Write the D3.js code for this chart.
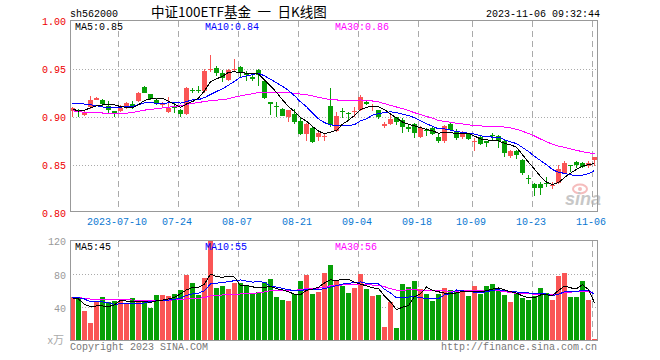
<!DOCTYPE html>
<html><head><meta charset="utf-8">
<script src="https://cdn.jsdelivr.net/npm/d3@7"></script>
<style>html,body{margin:0;padding:0;background:#fff;}svg{display:block;}</style>
</head><body>
<svg id="chart" width="660" height="360"></svg>
<script>
// ---------- data ----------
const code = "sh562000";
const title = "中证100ETF基金 一 日K线图";
const stamp = "2023-11-06 09:32:44";
const dates = [
"2023-06-28","2023-06-29","2023-06-30",
"2023-07-03","2023-07-04","2023-07-05","2023-07-06","2023-07-07",
"2023-07-10","2023-07-11","2023-07-12","2023-07-13","2023-07-14",
"2023-07-17","2023-07-18","2023-07-19","2023-07-20","2023-07-21",
"2023-07-24","2023-07-25","2023-07-26","2023-07-27","2023-07-28","2023-07-31",
"2023-08-01","2023-08-02","2023-08-03","2023-08-04",
"2023-08-07","2023-08-08","2023-08-09","2023-08-10","2023-08-11",
"2023-08-14","2023-08-15","2023-08-16","2023-08-17","2023-08-18",
"2023-08-21","2023-08-22","2023-08-23","2023-08-24","2023-08-25",
"2023-08-28","2023-08-29","2023-08-30","2023-08-31","2023-09-01",
"2023-09-04","2023-09-05","2023-09-06","2023-09-07","2023-09-08",
"2023-09-11","2023-09-12","2023-09-13","2023-09-14","2023-09-15",
"2023-09-18","2023-09-19","2023-09-20","2023-09-21","2023-09-22",
"2023-09-25","2023-09-26","2023-09-27","2023-09-28",
"2023-10-09","2023-10-10","2023-10-11","2023-10-12","2023-10-13",
"2023-10-16","2023-10-17","2023-10-18","2023-10-19","2023-10-20",
"2023-10-23","2023-10-24","2023-10-25","2023-10-26","2023-10-27",
"2023-10-30","2023-10-31",
"2023-11-01","2023-11-02","2023-11-03","2023-11-06"];
const opens = [
.906,.907,.902,.910,.918,.917,.911,.906,.906,.909,
.913,.916,.931,.923,.917,.912,.905,.910,.907,.903,
.928,.928,.927,.949,.951,.945,.938,.949,.952,.945,
.941,.948,.937,.915,.911,.908,.900,.903,.895,.882,
.888,.879,.879,.911,.885,.906,.904,.905,.907,.915,
.910,.907,.891,.892,.899,.896,.889,.892,.879,.886,
.888,.879,.874,.892,.884,.879,.882,.874,.879,.874,
.881,.880,.875,.859,.864,.855,.836,.830,.830,.831,
.828,.831,.841,.850,.853,.852,.848,.855];
const highs = [
.910,.908,.906,.921,.920,.918,.916,.906,.912,.915,
.916,.926,.932,.923,.919,.915,.920,.915,.908,.931,
.930,.932,.949,.964,.953,.948,.950,.960,.953,.947,
.944,.949,.939,.915,.915,.909,.907,.908,.898,.893,
.889,.885,.883,.930,.905,.909,.905,.910,.922,.917,
.913,.907,.894,.902,.900,.898,.891,.893,.890,.888,
.889,.882,.891,.893,.887,.885,.883,.878,.881,.875,
.883,.881,.876,.865,.865,.856,.839,.831,.832,.837,
.832,.849,.854,.850,.854,.853,.854,.858];
const lows = [
.900,.900,.901,.908,.917,.910,.904,.900,.905,.908,
.908,.915,.924,.917,.912,.910,.904,.904,.900,.902,
.925,.924,.925,.946,.942,.936,.937,.947,.941,.937,
.937,.932,.918,.902,.900,.901,.894,.892,.881,.875,
.872,.875,.875,.889,.884,.898,.896,.900,.906,.912,
.906,.897,.888,.891,.891,.883,.884,.878,.878,.880,
.881,.872,.872,.885,.876,.877,.876,.864,.870,.868,
.874,.867,.858,.857,.856,.839,.830,.817,.818,.827,
.824,.830,.840,.842,.846,.846,.846,.848];
const closes = [
.909,.906,.905,.917,.919,.913,.907,.904,.909,.914,
.911,.924,.925,.918,.913,.914,.909,.909,.903,.930,
.927,.927,.947,.950,.945,.940,.948,.950,.945,.943,
.940,.943,.919,.914,.910,.901,.907,.894,.882,.892,
.873,.883,.880,.891,.901,.905,.903,.906,.920,.914,
.911,.899,.892,.897,.894,.889,.888,.883,.888,.885,
.882,.874,.890,.886,.878,.882,.877,.875,.871,.873,
.880,.874,.862,.864,.860,.841,.835,.826,.826,.830,
.829,.845,.852,.849,.849,.847,.852,.858];
// volume, 万
const volumes = [
52.6,50.6,35.5,21.5,47.4,52.6,45.8,47.4,47.4,43.4,
51.4,45.8,47.4,39.4,54.6,54.6,53.8,56.2,60.6,78.5,
68.9,54.6,75.3,121,63.3,65.3,61.8,68.9,68.5,65.7,
56.6,58.6,69.7,73.7,52.6,48.6,47.4,55.4,71.3,78.5,
55.8,58.6,81.3,90.4,72.5,65.3,57.4,63.3,79.7,61.8,
53.4,54.6,16.7,45.8,14.7,67.7,64.1,71.3,62,56,
47,56,63,61,58,58,53.5,66,56,65,
68,60,54.5,45.8,56,51.5,48.5,54,63,56.6,
48.6,78,80.5,52,52,72,49,1.5];
// the 29 sessions before 2023-06-28 (estimated from the starting MA levels)
const priorCloses = [.930,.928,.926,.925,.921,.916,.912,.911,.898,.893,.888,.887,.889,.900,
.888,.884,.883,.886,.887,.891,.905,.912,.924,.930,.925,.918,.900,.905,.908];
const priorVolumes = [55,58,52,50,54,56,49,53,51,55,48,52,47,50,53,49,51,46,50,53,
54,50,56,48,52,57.6,67.5,35.5,42.8];
const priceTicks = [1.00, 0.95, 0.90, 0.85, 0.80];
const priceGrid = [0.95, 0.90, 0.85];
const volumeTicks = [120, 80, 40];
const volumeGrid = [80, 40];
const dateTicks = ["2023-07-10","2023-07-24","2023-08-07","2023-08-21","2023-09-04","2023-09-18","2023-10-09","2023-10-23","2023-11-06"];
const dateTickLabels = ["2023-07-10","07-24","08-07","08-21","09-04","09-18","10-09","10-23","11-06"];

// ---------- helpers ----------
function movingAvg(prior, vals, n){
  const all = prior.concat(vals);
  return vals.map((_, i) => {
    const end = prior.length + i;
    let s = 0;
    for (let k = end - n + 1; k <= end; k++) s += all[k];
    return s / n;
  });
}
const ma5 = movingAvg(priorCloses, closes, 5);
const ma10 = movingAvg(priorCloses, closes, 10);
const ma30 = movingAvg(priorCloses, closes, 30);
const vma5 = movingAvg(priorVolumes, volumes, 5);
const vma10 = movingAvg(priorVolumes, volumes, 10);
const vma30 = movingAvg(priorVolumes, volumes, 30);

const UP = "#fa5555", DOWN = "#07a007";
const MONO = "'Liberation Mono', 'DejaVu Sans Mono', monospace";
const L = 70, R = 597, T = 20, B = 211, VT = 240, VB = 340;

const svg = d3.select("#chart");
svg.append("rect").attr("width",660).attr("height",360).attr("fill","#fff");

const x = d3.scaleBand().domain(dates).range([L, R]).paddingInner(1/6).paddingOuter(0).align(0);
const bw = x.bandwidth();
const yP = d3.scaleLinear().domain([0.80, 1.00]).range([212.5, 20.5]);
const yV = d3.scaleLinear().domain([0, 120]).range([340.5, 240.5]);

const defs = svg.append("defs");
defs.append("clipPath").attr("id","cpMain").append("rect").attr("x",L+1).attr("y",T+1).attr("width",R-L-1).attr("height",B-T-1);
defs.append("clipPath").attr("id","cpVol").append("rect").attr("x",L+1).attr("y",VT+1).attr("width",R-L-1).attr("height",VB-VT);

// ---------- grids ----------
const grid = svg.append("g");
grid.selectAll(".hp").data(priceGrid).join("line")
  .attr("x1",L).attr("x2",R).attr("y1",d=>Math.round(yP(d))+0.5).attr("y2",d=>Math.round(yP(d))+0.5)
  .attr("stroke","#aaa").attr("stroke-dasharray","1,2");
grid.selectAll(".hv").data(volumeGrid).join("line")
  .attr("x1",L).attr("x2",R).attr("y1",d=>Math.round(yV(d))+0.5).attr("y2",d=>Math.round(yV(d))+0.5)
  .attr("stroke","#aaa").attr("stroke-dasharray","1,2");
[[T,B],[VT,VB]].forEach(([a,b]) => {
  grid.append("g").selectAll("line").data(dateTicks).join("line")
    .attr("x1",d=>x(d)+0.5).attr("x2",d=>x(d)+0.5).attr("y1",a+1).attr("y2",b)
    .attr("stroke","#aaa").attr("stroke-dasharray","6,4");
});

// ---------- watermark ----------
const wm = svg.append("g").attr("opacity",0.75);
wm.append("ellipse").attr("cx",580).attr("cy",189).attr("rx",7).attr("ry",4.5)
  .attr("fill","none").attr("stroke","#f2a6a6").attr("stroke-width",2);
wm.append("circle").attr("cx",580).attr("cy",189).attr("r",2).attr("fill","#f2a6a6");
wm.append("text").attr("x",565).attr("y",205).attr("font-family","'Liberation Sans', Arial, sans-serif")
  .attr("font-size",18).attr("font-weight","bold").attr("font-style","italic").attr("fill","#b5b5b5").text("sina");

// ---------- candles ----------
const idx = d3.range(dates.length);
const isUp = i => closes[i] >= opens[i];
const cg = svg.append("g").attr("clip-path","url(#cpMain)").attr("shape-rendering","crispEdges");
cg.selectAll(".wick").data(idx).join("line")
  .attr("x1",i=>x(dates[i])+2.5).attr("x2",i=>x(dates[i])+2.5)
  .attr("y1",i=>yP(highs[i])).attr("y2",i=>yP(lows[i]))
  .attr("stroke",i=>isUp(i)?UP:DOWN);
cg.selectAll(".body").data(idx).join("rect")
  .attr("x",i=>x(dates[i])).attr("width",bw)
  .attr("y",i=>yP(Math.max(opens[i],closes[i])))
  .attr("height",i=>Math.max(1.5, Math.abs(yP(opens[i])-yP(closes[i]))))
  .attr("fill",i=>isUp(i)?UP:DOWN);

// ---------- volume bars ----------
const vg = svg.append("g").attr("clip-path","url(#cpVol)").attr("shape-rendering","crispEdges");
vg.selectAll("rect").data(idx).join("rect")
  .attr("x",i=>x(dates[i])).attr("width",bw)
  .attr("y",i=>yV(volumes[i])).attr("height",i=>yV(0)-yV(volumes[i]))
  .attr("fill",i=>isUp(i)?UP:DOWN);

// ---------- MA lines ----------
function drawLines(g, series, yScale){
  series.forEach(([vals, color]) => {
    g.append("path").datum(vals)
      .attr("d", d3.line().x((d,i)=>x(dates[i])+2.5).y(d=>yScale(d)))
      .attr("fill","none").attr("stroke",color).attr("stroke-width",1)
      .attr("shape-rendering","crispEdges");
  });
}
drawLines(svg.append("g").attr("clip-path","url(#cpMain)"), [[ma30,"#ff00ff"],[ma10,"#0000ff"],[ma5,"#000"]], yP);
drawLines(svg.append("g").attr("clip-path","url(#cpVol)"), [[vma30,"#ff00ff"],[vma10,"#0000ff"],[vma5,"#000"]], yV);

// ---------- frames ----------
svg.append("rect").attr("x",L+0.5).attr("y",T+0.5).attr("width",R-L).attr("height",B-T)
  .attr("fill","none").attr("stroke","#999");
svg.append("rect").attr("x",L+0.5).attr("y",VT+0.5).attr("width",R-L).attr("height",VB-VT)
  .attr("fill","none").attr("stroke","#999");

// ---------- axes ----------
function styleAxis(g, color){
  g.select(".domain").remove();
  g.selectAll(".tick line").remove();
  g.attr("font-family", MONO).attr("font-size", 10);
  g.selectAll("text").attr("fill", color);
}
const ay = svg.append("g").attr("transform",`translate(${L},0)`)
  .call(d3.axisLeft(yP).tickValues(priceTicks).tickFormat(d3.format(".2f")).tickSize(0).tickPadding(4));
styleAxis(ay, "#ee0000");
ay.selectAll("text").attr("dy","0.42em");

const av = svg.append("g").attr("transform",`translate(${L},0)`)
  .call(d3.axisLeft(yV).tickValues(volumeTicks).tickSize(0).tickPadding(4));
styleAxis(av, "#999");
av.selectAll("text").attr("dy","0.42em");

const ax = svg.append("g").attr("transform",`translate(${-3.5},${B})`)
  .call(d3.axisBottom(x).tickValues(dateTicks).tickFormat((d,i)=>dateTickLabels[i]).tickSize(0).tickPadding(7));
styleAxis(ax, "#0b78d1");

// ---------- texts ----------
const txt = (xx, yy, s, color, anchor) => svg.append("text").attr("x",xx).attr("y",yy)
  .attr("font-family",MONO).attr("font-size",10).attr("fill",color)
  .attr("text-anchor",anchor||"start").text(s);
txt(70, 17, code, "#000");
txt(600, 17, stamp, "#000", "end");
svg.append("text").attr("x",151).attr("y",17)
  .attr("font-family","'Noto Sans CJK SC', sans-serif").attr("font-size",13.5).attr("fill","#000")
  .attr("word-spacing",3.5).text(title);

const last = dates.length - 1;
const f2 = d3.format(".2f");
txt(75, 30, "MA5:" + f2(ma5[last]), "#000");
txt(205, 30, "MA10:" + f2(ma10[last]), "#0000ff");
txt(335, 30, "MA30:" + f2(ma30[last]), "#ff00ff");
txt(75, 250, "MA5:" + Math.round(vma5[last]), "#000");
txt(205, 250, "MA10:" + Math.round(vma10[last]), "#0000ff");
txt(335, 250, "MA30:" + Math.round(vma30[last]), "#ff00ff");

svg.append("text").attr("x",64).attr("y",344).attr("text-anchor","end")
  .attr("font-family","'Noto Sans CJK SC', sans-serif").attr("font-size",11).attr("fill","#aaa").text("x万");
txt(70, 349.5, "Copyright 2023 SINA.COM", "#777");
txt(597, 349.5, "http://finance.sina.com.cn", "#777", "end");
</script>
</body></html>
